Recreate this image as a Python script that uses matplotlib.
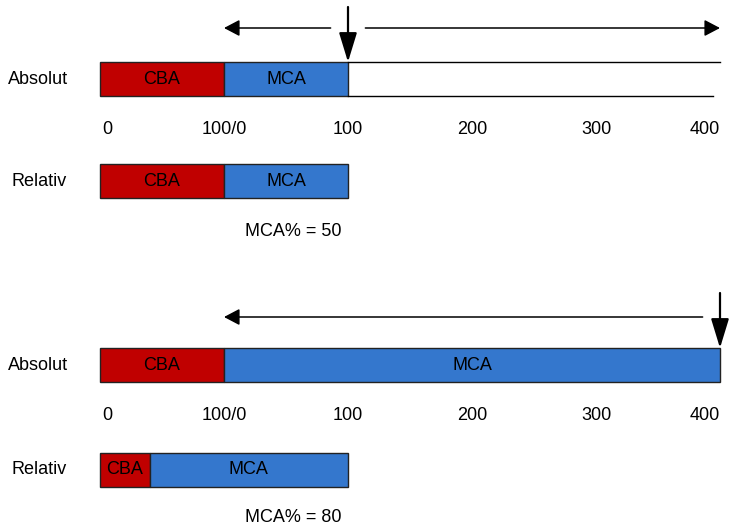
# CBA / MCA absolute vs relative diagram
import matplotlib.pyplot as plt

# values
cba_abs = 100                  # CBA always 100 on the absolute scale
mca_abs = [100, 400]           # MCA absolute value, top and bottom case
mca_pct = [50, 80]             # MCA share in percent
tick_pos = [0, 100, 200, 300, 400, 500]
tick_labels = ["0", "100/0", "100", "200", "300", "400"]
rel_total = 200                # width of the relative bar in scale units

red = "#C00000"
blue = "#3477CD"

plt.rcParams['font.family'] = ['Liberation Sans', 'DejaVu Sans']
fs = 13

fig = plt.figure(figsize=(7.31, 5.31), dpi=100)
ax = fig.add_axes([0, 0, 1, 1])
ax.set_xlim(-100 / 1.24, 631 / 1.24)
ax.set_ylim(531, 0)
ax.axis('off')

# y layout per panel (pixels from top)
abs_y = [79, 365]
tick_y = [130, 415]
rel_y = [181, 470]
pct_y = [232, 518]
arrow_y = [28, 317]
h = 34


def arrow(x0, y0, x1, y1, hl, hw, lw=1.1):
    ax.annotate("", xy=(x1, y1), xytext=(x0, y0),
                arrowprops=dict(arrowstyle=f"-|>,head_length={hl},head_width={hw}",
                                color="black", lw=lw, shrinkA=0, shrinkB=0))


for i in range(2):
    # absolute bar
    ax.barh(abs_y[i], cba_abs, left=0, height=h, color=red, edgecolor="#222222", lw=1)
    ax.barh(abs_y[i], mca_abs[i], left=cba_abs, height=h, color=blue,
            edgecolor="#222222", lw=1)
    ax.text(cba_abs / 2, abs_y[i], "CBA", ha="center", va="center", fontsize=fs)
    ax.text(cba_abs + mca_abs[i] / 2, abs_y[i], "MCA", ha="center", va="center", fontsize=fs)
    ax.text(-74, abs_y[i], "Absolut", ha="left", va="center", fontsize=fs)

    end = cba_abs + mca_abs[i]
    if end < tick_pos[-1]:
        ax.plot([end, tick_pos[-1]], [abs_y[i] - h / 2, abs_y[i] - h / 2], color="black", lw=1)
        ax.plot([end, tick_pos[-1] - 6], [abs_y[i] + h / 2, abs_y[i] + h / 2], color="black", lw=1)

    # down arrow marking the MCA end
    arrow(end, abs_y[i] - h / 2 - 55, end, abs_y[i] - h / 2, 1.8, 0.55, lw=1.6)

    # horizontal arrows
    arrow(end - 14, arrow_y[i], cba_abs, arrow_y[i], 0.95, 0.5)
    if end < tick_pos[-1]:
        arrow(end + 14, arrow_y[i], tick_pos[-1], arrow_y[i], 0.95, 0.5)

    # tick labels
    for j, (p, lab) in enumerate(zip(tick_pos, tick_labels)):
        ha = "center"
        xp = p
        if j == 0:
            ha, xp = "left", p + 2
        elif j == len(tick_pos) - 1:
            ha = "right"
        ax.text(xp, tick_y[i], lab, ha=ha, va="center", fontsize=fs)

    # relative bar
    cba_w = rel_total * (100 - mca_pct[i]) / 100
    mca_w = rel_total - cba_w
    ax.barh(rel_y[i], cba_w, left=0, height=h, color=red, edgecolor="#222222", lw=1)
    ax.barh(rel_y[i], mca_w, left=cba_w, height=h, color=blue, edgecolor="#222222", lw=1)
    ax.text(cba_w / 2, rel_y[i], "CBA", ha="center", va="center", fontsize=fs)
    ax.text(cba_w + mca_w / 2, rel_y[i], "MCA", ha="center", va="center", fontsize=fs)
    ax.text(-71, rel_y[i], "Relativ", ha="left", va="center", fontsize=fs)

    ax.text(117, pct_y[i], f"MCA% = {mca_pct[i]}", ha="left", va="center", fontsize=fs)

plt.savefig("out.png", dpi=100)
